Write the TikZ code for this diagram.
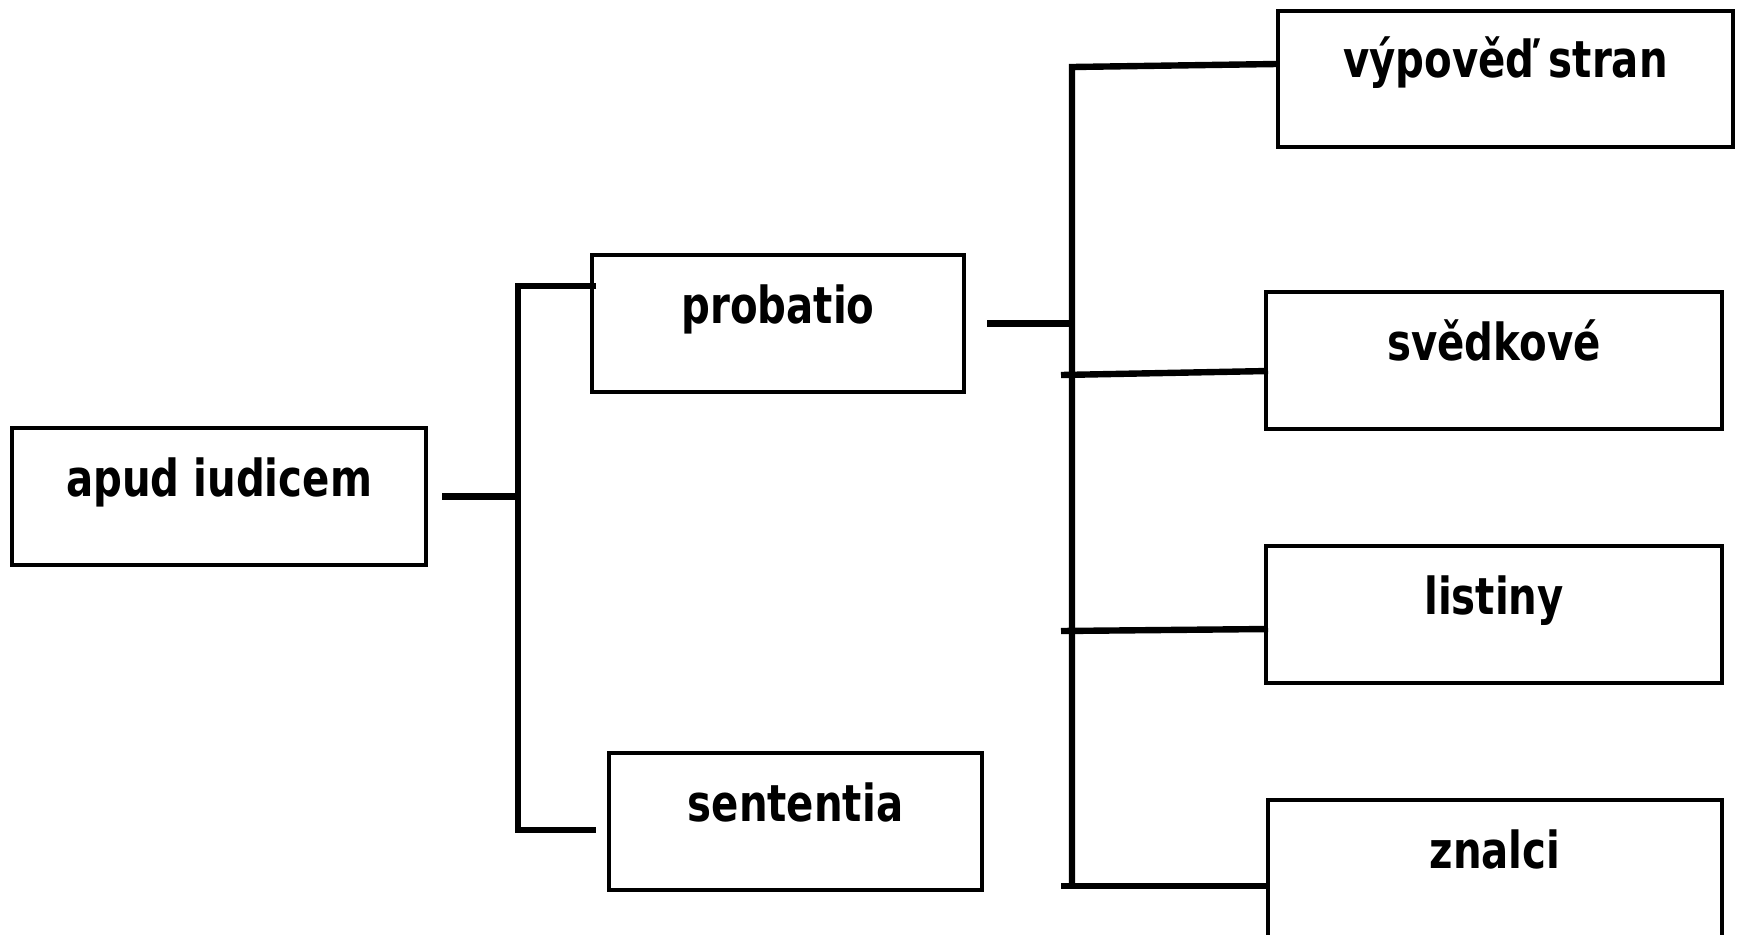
\documentclass[tikz,border=0pt]{standalone}
\usepackage{fontspec}
\setmainfont{DejaVu Sans}
\begin{document}
\begin{tikzpicture}[x=0.5pt,y=-0.5pt,
  box/.style={draw, line width=2pt, inner sep=0pt, text height=34pt, text depth=34.5pt,
    font=\bfseries\fontsize{25.5}{30}\selectfont},
  conn/.style={line width=3.2pt, line join=miter}]
\useasboundingbox (0,0) rectangle (1737,934);
\fill[white] (0,0) rectangle (1737,934);
% boxes
\node[box, minimum width=207pt] (apud) at (219,496.5) {\scalebox{0.79}[1]{apud iudicem}};
\node[box, minimum width=186pt] (probatio) at (778,323.5) {\scalebox{0.79}[1]{probatio}};
\node[box, minimum width=186.5pt] (sententia) at (795.5,821.5) {\scalebox{0.79}[1]{sententia}};
\node[box, minimum width=227.5pt, text height=33pt, text depth=35pt] (vypoved) at (1505.5,79) {\scalebox{0.79}[1]{výpověď stran}};
\node[box, minimum width=228pt] (svedkove) at (1494,360.5) {\scalebox{0.79}[1]{svědkové}};
\node[box, minimum width=228pt] (listiny) at (1494,614.5) {\scalebox{0.79}[1]{listiny}};
\node[box, minimum width=227pt] (znalci) at (1495,868.5) {\scalebox{0.79}[1]{znalci}};
% junctions
\coordinate (s1t) at (518,286);
\coordinate (s1b) at (518,830);
\coordinate (s2t) at (1072,67);
\coordinate (s2b) at (1072,888);
\coordinate (b2) at (1061,375);
\coordinate (b3) at (1061,631);
\coordinate (b4) at (1061,886);
% connectors, level 1
\draw[conn] ([xshift=7pt]apud.east) -- (apud.east -| s1t);
\draw[conn] ([xshift=3pt]probatio.west |- s1t) -- (s1t) -- (s1b) -- ([xshift=-5.5pt]sententia.west |- s1b);
% connectors, level 2
\draw[conn] ([xshift=10.5pt]probatio.east) -- (probatio.east -| s2t);
\draw[conn] ([yshift=7.5pt]vypoved.west) -- (s2t) -- (s2b);
\draw[conn] (b2) -- ([xshift=2pt,yshift=-5.25pt]svedkove.west);
\draw[conn] (b3) -- ([xshift=2pt,yshift=-7.25pt]listiny.west);
\draw[conn] (b4) -- ([yshift=-8.75pt]znalci.west);
\end{tikzpicture}
\end{document}
